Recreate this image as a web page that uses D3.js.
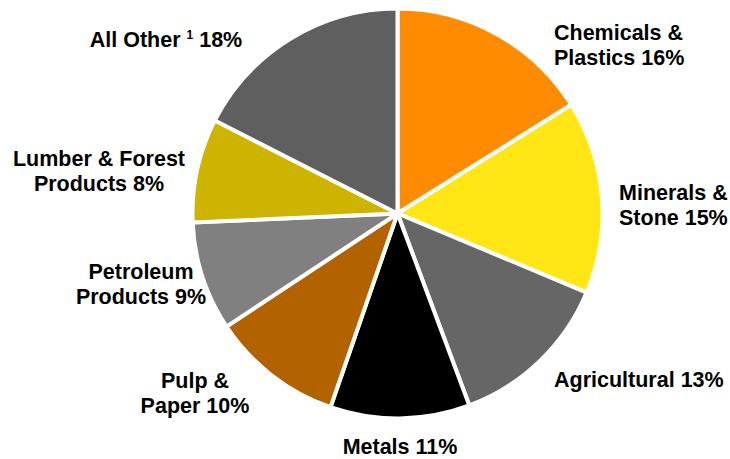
<!DOCTYPE html>
<html lang="en">

<head>
    <meta charset="UTF-8">
    <script src="https://cdnjs.cloudflare.com/ajax/libs/d3/7.9.0/d3.min.js"></script>
    <title>Commodity Mix</title>
    <style>
        body {
            margin: 0;
            background-color: white;
            font-family: "Liberation Sans", Arial, sans-serif;
        }

        svg {
            display: block;
        }

        .label {
            font-weight: bold;
            font-size: 21.5px;
            fill: #000;
        }
    </style>
</head>

<body>
    <div id="chart"></div>
    <script>
        const width = 730;
        const height = 459;

        // data, clockwise from 12 o'clock (slice sizes, labels show rounded %)
        const categories = ["Chemicals & Plastics", "Minerals & Stone", "Agricultural", "Metals",
            "Pulp & Paper", "Petroleum Products", "Lumber & Forest Products", "All Other"];
        const shares = [16.1, 15.2, 13.0, 11.0, 10.4, 8.6, 8.2, 17.5];
        const labelLines = [
            ["Chemicals &", "Plastics 16%"],
            ["Minerals &", "Stone 15%"],
            ["Agricultural 13%"],
            ["Metals 11%"],
            ["Pulp &", "Paper 10%"],
            ["Petroleum", "Products 9%"],
            ["Lumber & Forest", "Products 8%"],
            ["All Other ¹ 18%"]
        ];
        const colors = ["#ff8c00", "#ffe614", "#666666", "#000000",
            "#b36200", "#808080", "#ccb400", "#5f5f5f"];

        // label layout (x, first baseline, anchor) - hand placed like the original
        const labelLayout = [
            { x: 554, y: 40, anchor: "start" },
            { x: 619, y: 200, anchor: "start" },
            { x: 554, y: 387, anchor: "start" },
            { x: 400, y: 454, anchor: "middle" },
            { x: 195, y: 388, anchor: "middle" },
            { x: 141, y: 279, anchor: "middle" },
            { x: 99, y: 166, anchor: "middle" },
            { x: 166, y: 47, anchor: "middle" }
        ];
        const lineHeight = 24.5;

        const cx = 397.5, cy = 213.5, radius = 205;

        const svg = d3.select("#chart").append("svg")
            .attr("width", width)
            .attr("height", height);

        const pie = d3.pie().sort(null).value(d => d)
            .startAngle(0).endAngle(2 * Math.PI);
        const arc = d3.arc().innerRadius(0).outerRadius(radius);

        const g = svg.append("g").attr("transform", `translate(${cx}, ${cy})`);

        g.selectAll("path")
            .data(pie(shares))
            .enter()
            .append("path")
            .attr("d", arc)
            .attr("fill", (d, i) => colors[i])
            .attr("stroke", "white")
            .attr("stroke-width", 4)
            .attr("stroke-linejoin", "miter");

        // labels
        const labels = svg.selectAll("text.label")
            .data(labelLines)
            .enter()
            .append("text")
            .attr("class", "label")
            .attr("text-anchor", (d, i) => labelLayout[i].anchor)
            .attr("x", (d, i) => labelLayout[i].x)
            .attr("y", (d, i) => labelLayout[i].y);

        labels.each(function (lines, i) {
            const t = d3.select(this);
            lines.forEach((line, j) => {
                const ts = t.append("tspan")
                    .attr("x", labelLayout[i].x)
                    .attr("dy", j === 0 ? 0 : lineHeight);
                if (line.includes("¹")) {
                    const parts = line.split("¹");
                    ts.text(parts[0]);
                    t.append("tspan").attr("font-size", "12px").attr("dy", -8).text("1");
                    t.append("tspan").attr("dy", 8).text(" " + parts[1].trim());
                } else {
                    ts.text(line);
                }
            });
        });
    </script>
</body>

</html>
